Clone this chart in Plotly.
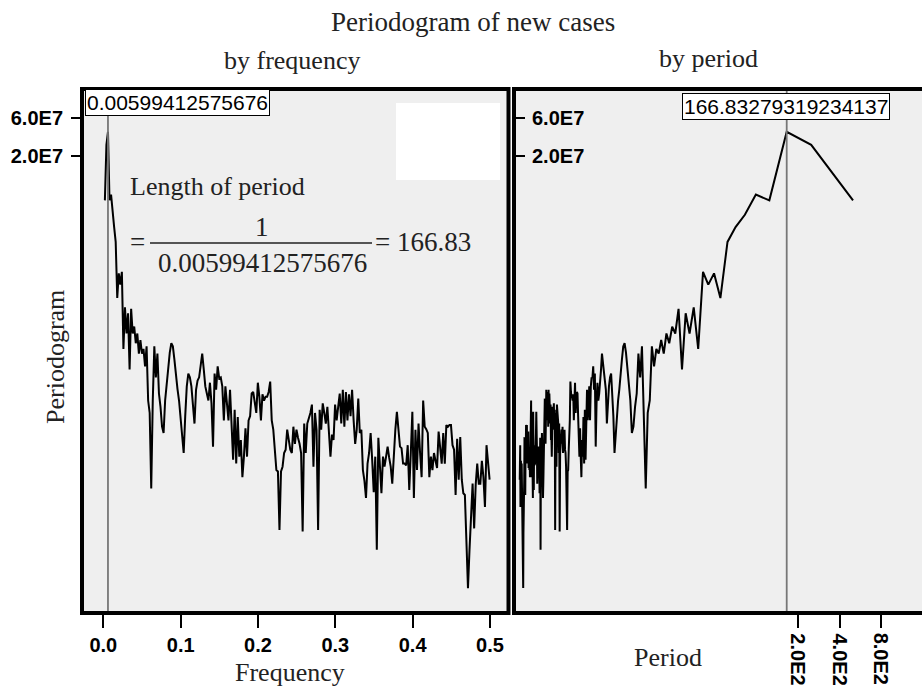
import math
import plotly.graph_objects as go

# Peak of the periodogram (frequency and its period)
PEAK_FREQ = 0.00599412575676
PEAK_PERIOD = 166.83279319234137

# Periodogram ordinates at the Fourier frequencies k * PEAK_FREQ / 3, k = 1..250
periodogram = [
    5.6e6, 2.75e7, 4.0e7, 5.6e6, 6.6e6, 3.7e6, 2.6e6, 1.7e6, 3.4e5, 6.9e5,
    5.0e5, 7.2e5, 7.9e4, 2.6e5, 1.23e5, 2.2e5, 4.4e4, 2.5e5, 1.23e5, 1.5e5,
    9.3e4, 1.23e5, 6.9e4, 1.02e5, 6.9e4, 7.9e4, 4.8e4, 8.5e4, 1.8e4, 1.26e4,
    1.45e3, 1.8e4, 8.5e4, 3.5e4, 6.9e4, 2.2e4, 1.5e4, 8.5e3, 7.1e3, 1.8e4,
    3.0e4, 4.8e4, 7.1e4, 9.3e4, 8.5e4, 5.8e4, 3.5e4, 2.5e4, 1.8e4, 1.02e4,
    6.3e3, 4.0e3, 1.15e4, 2.7e4, 3.9e4, 3.5e4, 2.7e4, 1.6e4, 9.3e3, 2.45e4,
    3.2e4, 3.5e4, 4.8e4, 6.9e4, 4.4e4, 2.7e4, 2.2e4, 1.8e4, 3.0e4, 1.66e4,
    4.8e3, 3.9e4, 2.45e4, 4.8e4, 3.4e4, 3.5e4, 2.7e4, 1.02e4, 2.7e4, 1.66e4,
    1.02e4, 2.45e4, 1.02e4, 3.3e3, 1.38e4, 2.95e3, 1.12e4, 3.6e3, 5.8e3, 2.0e3,
    3.6e3, 8.1e3, 3.6e3, 1.02e4, 1.15e4, 2.2e4, 2.3e4, 1.8e4, 1.26e4, 3.0e4,
    2.0e4, 1.02e4, 2.15e4, 1.8e4, 2.0e4, 2.0e4, 2.3e4, 3.1e4, 1.02e4, 7.8e3,
    4.4e3, 2.45e3, 2.35e3, 440, 2.35e3, 2.7e3, 4.0e3, 4.4e3, 7.8e3, 5.6e3,
    4.4e3, 4.0e3, 8.5e3, 5.2e3, 7.8e3, 6.2e3, 5.2e3, 4.0e3, 420, 9.3e3,
    4.0e3, 9.3e3, 1.07e4, 1.26e4, 1.6e4, 2.7e3, 1.26e4, 7.8e3, 440, 1.38e4,
    7.8e3, 1.66e4, 1.26e4, 9.3e3, 1.5e4, 7.8e3, 3.6e3, 6.8e3, 5.8e3, 1.6e4,
    1.02e4, 1.5e4, 2.2e4, 9.3e3, 2.45e4, 8.5e3, 2.3e4, 1.02e4, 2.15e4, 1.15e4,
    2.45e4, 1.02e4, 5.2e3, 7.8e3, 1.9e4, 7.1e3, 7.8e3, 2.45e3, 1.8e3, 1.1e3,
    2.95e3, 4.0e3, 7.1e3, 3.3e3, 1.3e3, 3.6e3, 250, 6.2e3, 2.7e3, 1.26e3,
    3.6e3, 2.7e3, 3.6e3, 4.8e3, 3.5e3, 2.7e3, 1.66e3, 4.4e3, 7.8e3, 1.3e4,
    7.1e3, 4.8e3, 4.6e3, 2.95e3, 2.95e3, 2.8e3, 5.0e3, 1.38e3, 4.0e3, 1.3e4,
    1.1e3, 7.8e3, 2.45e3, 9.3e3, 4.0e3, 2.0e3, 1.8e4, 8.5e3, 7.9e3, 7.1e3,
    2.0e3, 3.6e3, 2.45e3, 4.0e3, 3.2e3, 2.6e3, 7.4e3, 5.0e3, 2.95e3, 7.1e3,
    2.95e3, 8.9e3, 8.5e3, 8.9e3, 8.9e3, 5.0e3, 4.4e3, 1.2e3, 6.0e3, 1.86e3,
    6.3e3, 1.86e3, 1.26e3, 1.2e3, 400, 83, 250, 710, 1.66e3, 460,
    1.6e3, 2.95e3, 1.66e3, 1.66e3, 3.2e3, 2.0e3, 850, 5.0e3, 3.2e3, 1.86e3,
]

freq_step = PEAK_FREQ / 3
frequency = [freq_step * (i + 1) for i in range(len(periodogram))]
period = [1.0 / f for f in frequency]

freq_ticks = [0.0, 0.1, 0.2, 0.3, 0.4, 0.5]
freq_ticktext = ["0.0", "0.1", "0.2", "0.3", "0.4", "0.5"]
pgram_ticks = [2.0e7, 6.0e7]
pgram_ticktext = ["2.0E7", "6.0E7"]
period_ticks = [200, 400, 800]
period_ticktext = ["2.0E2", "4.0E2", "8.0E2"]

W, H = 922, 688
Y_LOG_RANGE = [1.634, 8.11]


def px(x):
    return x / W


def py(y):
    return 1 - y / H


SERIF = "Liberation Serif"
SANS = "Liberation Sans"
TXT = "#222222"
tick_font = dict(family=SANS, size=20, color="black", weight="bold")

fig = go.Figure()

# periodogram against frequency
fig.add_trace(go.Scatter(x=frequency, y=periodogram, mode="lines",
                         line=dict(color="black", width=2),
                         xaxis="x", yaxis="y", showlegend=False))
fig.add_trace(go.Scatter(x=[PEAK_FREQ, PEAK_FREQ],
                         y=[10 ** Y_LOG_RANGE[0], 10 ** Y_LOG_RANGE[1]],
                         mode="lines", line=dict(color="#777777", width=1.8),
                         xaxis="x", yaxis="y", showlegend=False))

# periodogram against period
fig.add_trace(go.Scatter(x=period, y=periodogram, mode="lines",
                         line=dict(color="black", width=2),
                         xaxis="x2", yaxis="y2", showlegend=False))
fig.add_trace(go.Scatter(x=[PEAK_PERIOD, PEAK_PERIOD],
                         y=[10 ** Y_LOG_RANGE[0], 10 ** Y_LOG_RANGE[1]],
                         mode="lines", line=dict(color="#777777", width=1.8),
                         xaxis="x2", yaxis="y2", showlegend=False))

common_axis = dict(showgrid=False, zeroline=False, showline=False,
                   tickcolor="black", tickwidth=2, tickfont=tick_font)
y_domain = [py(611), py(91)]

fig.update_layout(
    width=W, height=H,
    margin=dict(l=0, r=0, t=0, b=0),
    paper_bgcolor="white",
    plot_bgcolor="#efefef",
    xaxis=dict(domain=[px(84), px(509)], range=[-0.025, 0.5246],
               tickvals=freq_ticks, ticktext=freq_ticktext,
               ticks="outside", ticklen=16, anchor="y", **common_axis),
    yaxis=dict(domain=y_domain, type="log", range=Y_LOG_RANGE,
               tickvals=pgram_ticks, ticktext=pgram_ticktext,
               ticks="outside", ticklen=12, ticklabelstandoff=4,
               anchor="x", **common_axis),
    xaxis2=dict(domain=[px(515), 1.0], type="log", range=[0.2675, 3.1956],
                tickvals=period_ticks, showticklabels=False,
                ticks="outside", ticklen=16,
                anchor="y2", **common_axis),
    yaxis2=dict(domain=y_domain, type="log", range=Y_LOG_RANGE,
                tickvals=pgram_ticks, ticktext=pgram_ticktext,
                ticks="inside", ticklen=10, ticklabelposition="inside",
                ticklabelstandoff=8, anchor="x2", **common_axis),
)

shapes = [
    # frame of the frequency panel
    dict(type="rect", xref="paper", yref="paper",
         x0=px(82), x1=px(508.5), y0=py(613), y1=py(89),
         line=dict(color="black", width=4)),
    # frame of the period panel (open on the right)
    dict(type="line", xref="paper", yref="paper",
         x0=px(514), x1=px(514), y0=py(615), y1=py(87),
         line=dict(color="black", width=4)),
    dict(type="line", xref="paper", yref="paper",
         x0=px(512), x1=1.0, y0=py(89), y1=py(89),
         line=dict(color="black", width=4)),
    dict(type="line", xref="paper", yref="paper",
         x0=px(512), x1=1.0, y0=py(613), y1=py(613),
         line=dict(color="black", width=4)),
    # blank patch
    dict(type="rect", xref="paper", yref="paper",
         x0=px(396), x1=px(500), y0=py(180), y1=py(103),
         fillcolor="white", line=dict(width=0)),
    # fraction bar
    dict(type="line", xref="paper", yref="paper",
         x0=px(150), x1=px(372), y0=py(243), y1=py(243),
         line=dict(color=TXT, width=1.5)),
]
fig.update_layout(shapes=shapes)


def text(x, y, s, size=26, family=SERIF, xanchor="center", angle=0, **kw):
    fig.add_annotation(x=px(x), y=py(y), xref="paper", yref="paper",
                       text=s, showarrow=False, xanchor=xanchor,
                       yanchor="middle", textangle=angle,
                       font=dict(family=family, size=size, color=kw.pop("color", TXT)),
                       **kw)


text(473, 22, "Periodogram of new cases", size=27)
text(292, 60, "by frequency")
text(708, 58, "by period")
text(55, 357, "Periodogram", angle=-90)
text(290, 672, "Frequency")
text(668, 657, "Period")
text(128, 187, "Length of period", xanchor="left")
text(137, 242, "=", size=27)
text(262, 227, "1", size=27)
text(262, 263, f"{PEAK_FREQ}", size=27)
text(373, 242, f"= {PEAK_PERIOD:.2f}", size=27, xanchor="left")

# value boxes at the peak
text(177, 102, f"{PEAK_FREQ}", size=21, family=SANS, color="black",
     bordercolor="black", borderwidth=1, borderpad=1, bgcolor="white")
text(786, 106, f"{PEAK_PERIOD}", size=21, family=SANS, color="black",
     bordercolor="black", borderwidth=1, borderpad=1, bgcolor="white")

# rotated tick labels of the period axis, placed at the tick values
for v, lab in zip(period_ticks, period_ticktext):
    fig.add_annotation(x=math.log10(v), xref="x2", y=py(659), yref="paper",
                       text=lab, showarrow=False, textangle=90,
                       xanchor="center", yanchor="middle",
                       font=tick_font)

fig.write_html("out.html")
